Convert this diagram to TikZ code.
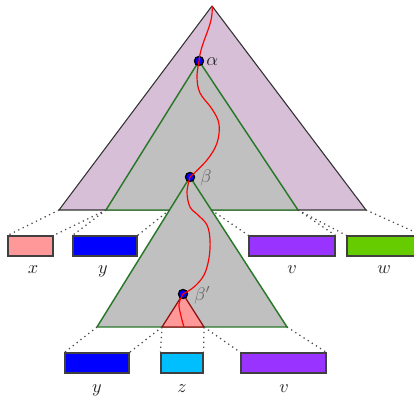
\documentclass[tikz,border=0pt]{standalone}
\usetikzlibrary{fit,calc}
\definecolor{thistlefill}{RGB}{216,191,216}
\definecolor{treegray}{RGB}{192,192,192}
\definecolor{edgegreen}{RGB}{40,120,40}
\definecolor{pinkfill}{RGB}{255,153,153}
\definecolor{leafblue}{RGB}{0,0,255}
\definecolor{leafviolet}{RGB}{153,51,255}
\definecolor{leafgreen}{RGB}{102,204,0}
\definecolor{leafcyan}{RGB}{0,191,255}
\definecolor{darkred}{RGB}{140,20,20}
\begin{document}
\begin{tikzpicture}[x=0.55pt,y=-0.55pt,
  outer/.style={fill=thistlefill, draw=black!80, line width=0.6pt, line join=round},
  inner/.style={fill=treegray, draw=edgegreen, line width=0.8pt, line join=round},
  redtri/.style={fill=pinkfill, draw=darkred, line width=0.7pt, line join=round},
  leaf/.style={draw=black!75, line width=0.6pt, inner sep=0pt},
  lbl/.style={anchor=base, inner sep=0pt, text=black!85},
  link/.style={dotted, line width=0.7pt, draw=black!70},
  dot/.style={circle, fill=blue, draw=black, line width=0.7pt, inner sep=0pt, minimum size=5pt},
  pathline/.style={red, line width=0.65pt}]
\useasboundingbox (0,0) rectangle (414,395);
\clip (0,0) rectangle (414,395);

% corners of the three nested trees
\coordinate (top) at (212,6);
\coordinate (tl) at (59,210);
\coordinate (tr) at (366,210);
\coordinate (aapex) at (199,61);
\coordinate (ga) at (106,210);
\coordinate (gb) at (298,210);
\coordinate (bapex) at (190,177);
\coordinate (bl) at (97,327);
\coordinate (br) at (287,327);
\coordinate (rapex) at (183,294);
\coordinate (rl) at (162,327);
\coordinate (rr) at (204,327);
\coordinate (ma) at ($(bapex)!0.22!(bl)$);
\coordinate (mb) at ($(bapex)!0.22!(br)$);

% triangles
\filldraw[outer] (top) -- (tl) -- (tr) -- cycle;
\filldraw[inner] (aapex) -- (ga) -- (gb) -- cycle;
\filldraw[inner] (bapex) -- (bl) -- (br) -- cycle;
\filldraw[redtri] (rapex) -- (rl) -- (rr) -- cycle;

% leaf strings, upper row
\node[leaf, fill=pinkfill,  fit={(8,236) (53,256)}] (x1) {};
\node[leaf, fill=leafblue,  fit={(73,236) (137,256)}] (y1) {};
\node[leaf, fill=leafviolet, fit={(249,236) (335,256)}] (v1) {};
\node[leaf, fill=leafgreen, fit={(347,236) (422,256)}] (w1) {};
\node[lbl] (lx1) at (33,273) {$x$};
\node[lbl] (ly1) at (103,273) {$y$};
\node[lbl] (lv1) at (292,273) {$v$};
\node[lbl] (lw1) at (384,273) {$w$};

% leaf strings, lower row
\node[leaf, fill=leafblue,  fit={(65,353) (129,373)}] (y2) {};
\node[leaf, fill=leafcyan,  fit={(161,353) (203,373)}] (z2) {};
\node[leaf, fill=leafviolet, fit={(241,353) (326,373)}] (v2) {};
\node[lbl] (ly2) at (97,392) {$y$};
\node[lbl] (lz2) at (182,392) {$z$};
\node[lbl] (lv2) at (284,392) {$v$};

% yield links
\draw[link] (tl) -- (x1.north west);
\draw[link] (ga) -- (x1.north east);
\draw[link] (ga) -- (y1.north west);
\draw[link] (ma) -- (y1.north east);
\draw[link] (mb) -- (v1.north west);
\draw[link] (gb) -- (v1.north east);
\draw[link] (gb) -- (w1.north west);
\draw[link] (tr) -- (w1.north east);
\draw[link] (bl) -- (y2.north west);
\draw[link] (rl) -- (y2.north east);
\draw[link] (rl) -- (z2.north west);
\draw[link] (rr) -- (z2.north east);
\draw[link] (rr) -- (v2.north west);
\draw[link] (br) -- (v2.north east);

% marked nodes
\node[dot] (alpha) at (aapex) {};
\node[dot] (beta) at (bapex) {};
\node[dot] (betap) at (rapex) {};
\node[anchor=west, inner sep=0pt, text=black!85] (la) at (206,62) {$\alpha$};
\node[anchor=west, inner sep=0pt, text=black!60] (lb) at (200,178) {$\beta$};
\node[anchor=west, inner sep=0pt, text=black!60] (lbp) at (194,295) {$\beta'$};

% spine through the trees
\coordinate (foot) at (184,327);
\draw[pathline] (top) .. controls (214,25) and (201,40) .. (alpha.center);
\draw[pathline] plot[smooth, tension=0.6] coordinates {(alpha.center) (197,77) (200,93) (212,109) (219,124) (217,143) (207,160) (beta.center)};
\draw[pathline] plot[smooth, tension=0.6] coordinates {(beta.center) (187,192) (190,207) (198,215) (207,225) (210,240) (209,258) (204,275) (194,287) (betap.center)};
\draw[pathline] plot[smooth, tension=0.6] coordinates {(betap.center) (179,304) (181,316) (foot)};
\end{tikzpicture}
\end{document}
